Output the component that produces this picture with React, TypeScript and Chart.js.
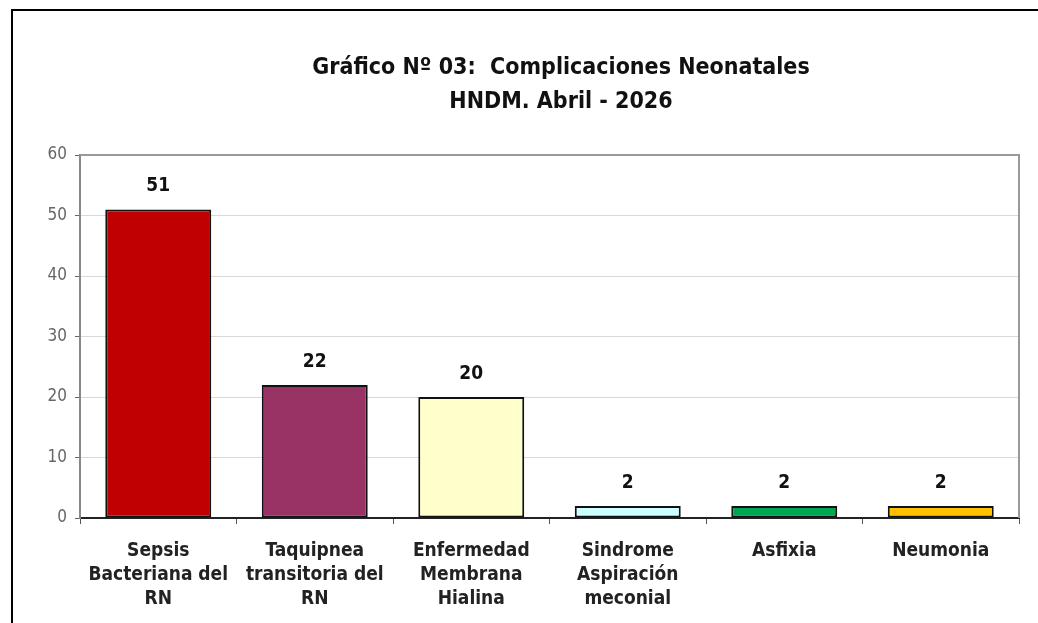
import React, { useEffect, useRef } from "react";
import { Chart, registerables } from "chart.js";

Chart.register(...registerables);

const titleLines = ["Gráfico Nº 03:  Complicaciones Neonatales", "HNDM. Abril - 2026"];
const categories: string[][] = [
  ["Sepsis", "Bacteriana del", "RN"],
  ["Taquipnea", "transitoria del", "RN"],
  ["Enfermedad", "Membrana", "Hialina"],
  ["Sindrome", "Aspiración", "meconial"],
  ["Asfixia"],
  ["Neumonia"],
];
const values = [51, 22, 20, 2, 2, 2];
const barColors = ["#C00000", "#993366", "#FFFFCC", "#CCFFFF", "#00A650", "#FFC000"];
const yTicks = [0, 10, 20, 30, 40, 50, 60];

const FONT = "'Liberation Sans Narrow', 'DejaVu Sans Condensed', 'Liberation Sans', Arial, sans-serif";

const framePlugin = {
  id: "framePlugin",
  beforeDraw(chart: any) {
    const { ctx, width, height } = chart;
    ctx.save();
    ctx.fillStyle = "#ffffff";
    ctx.fillRect(0, 0, width, height);
    ctx.fillStyle = "#000000";
    ctx.fillRect(11, 9, width - 11, 2);
    ctx.fillRect(11, 9, 2, height - 9);
    ctx.restore();
  },
  afterDatasetsDraw(chart: any) {
    const { ctx, chartArea } = chart;
    ctx.save();
    // plot frame (top and right)
    ctx.strokeStyle = "#999999";
    ctx.lineWidth = 2;
    ctx.beginPath();
    ctx.moveTo(chartArea.left, chartArea.top);
    ctx.lineTo(chartArea.right, chartArea.top);
    ctx.lineTo(chartArea.right, chartArea.bottom);
    ctx.stroke();
    // title
    ctx.fillStyle = "#111111";
    ctx.font = `bold 23px ${FONT}`;
    ctx.textAlign = "center";
    ctx.textBaseline = "middle";
    ctx.fillText(titleLines[0], 561, 68);
    ctx.fillText(titleLines[1], 561, 102);
    // data labels
    const meta = chart.getDatasetMeta(0);
    ctx.font = `bold 19px ${FONT}`;
    ctx.fillStyle = "#111111";
    meta.data.forEach((bar: any, i: number) => {
      ctx.fillText(String(values[i]), bar.x, bar.y - 23);
    });
    ctx.restore();
  },
};

export default function App() {
  const ref = useRef<HTMLCanvasElement | null>(null);
  useEffect(() => {
    if (!ref.current) return;
    const chart = new Chart(ref.current, {
      type: "bar",
      data: {
        labels: categories,
        datasets: [
          {
            data: values,
            backgroundColor: barColors,
            borderColor: "#111111",
            borderWidth: 2,
            borderSkipped: false,
            categoryPercentage: 1,
            barPercentage: 0.677,
          },
        ],
      },
      options: {
        responsive: false,
        animation: false,
        layout: { padding: { top: 155, right: 19, left: 0, bottom: 0 } },
        plugins: {
          legend: { display: false },
          title: { display: false },
          tooltip: { enabled: false },
        },
        scales: {
          x: {
            grid: {
              display: true,
              drawOnChartArea: false,
              drawTicks: true,
              tickLength: 6,
              color: "#555555",
              offset: true,
            },
            border: { display: true, color: "#222222", width: 2 },
            ticks: {
              color: "#222222",
              font: { family: FONT, size: 19, weight: "bold", lineHeight: 1.26 },
              maxRotation: 0,
              autoSkip: false,
              padding: 15,
            },
            afterFit(scale: any) {
              scale.height = 105;
            },
          },
          y: {
            min: 0,
            max: 60,
            afterBuildTicks(scale: any) {
              scale.ticks = yTicks.map((v) => ({ value: v }));
            },
            grid: {
              color: "#d9d9d9",
              lineWidth: 1,
              drawTicks: true,
              tickLength: 5,
              tickColor: "#666666",
            },
            border: { display: true, color: "#888888", width: 2 },
            ticks: {
              color: "#666666",
              font: { family: FONT, size: 17 },
              padding: 8,
            },
            afterFit(scale: any) {
              scale.width = 80;
            },
          },
        },
      },
      plugins: [framePlugin],
    });
    return () => chart.destroy();
  }, []);
  return (
    <div style={{ position: "fixed", left: 0, top: 0, width: 1038, height: 623, background: "#fff" }}>
      <canvas ref={ref} width={1038} height={623} style={{ display: "block", width: 1038, height: 623 }} />
    </div>
  );
}
